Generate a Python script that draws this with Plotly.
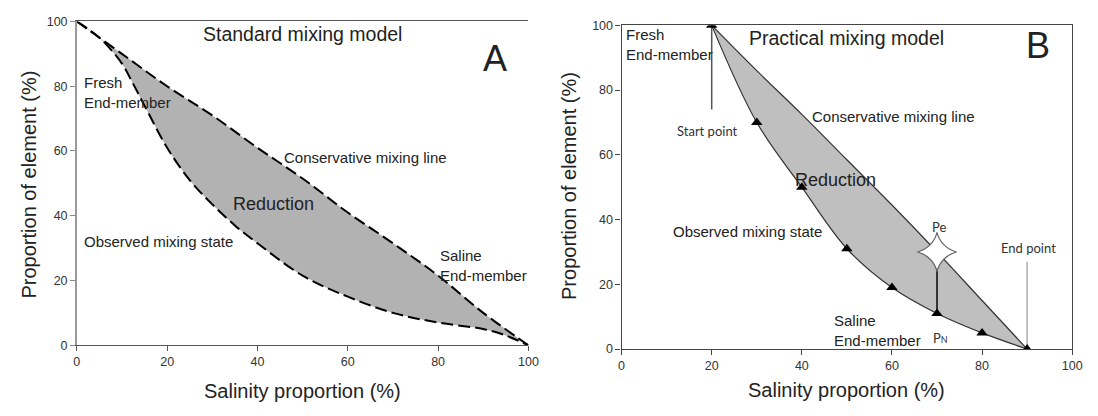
import plotly.graph_objects as go

# ---------------- data ----------------
ticks = [0, 20, 40, 60, 80, 100]

# Panel A: standard mixing model
a_cons_x = [0, 10, 20, 30, 40, 50, 60, 70, 80, 90, 100]
a_cons_y = [100, 90, 80, 71, 61, 51.5, 41, 31.5, 21.5, 10, 0]
a_obs_x = [0, 5, 10, 12, 15, 20, 25, 30, 35, 40, 50, 60, 70, 80, 90, 95, 100]
a_obs_y = [100, 95, 87, 82, 74, 61, 51, 43.5, 37, 31.5, 21.5, 15, 10, 7, 5, 3, 0]

# Panel B: practical mixing model
b_cons_x = [20, 30, 40, 50, 60, 70, 80, 90]
b_cons_y = [100, 86, 72.5, 58.5, 44.5, 30, 15, 0]
b_obs_x = [20, 30, 40, 50, 60, 70, 80, 90]
b_obs_y = [100, 70, 50, 31, 19, 11, 5, 0]
pe_x, pe_y = [70], [30]
pn_line_x, pn_line_y = [70, 70], [11, 30]
start_line_x, start_line_y = [20, 20], [100, 74]
end_line_x, end_line_y = [90, 90], [0, 27]

FONT = "Liberation Sans, Arial, sans-serif"
TXT = "#222222"

fig = go.Figure()

# ---- Panel A ----
fig.add_trace(go.Scatter(x=a_cons_x, y=a_cons_y, mode="lines", line_shape="spline",
                         line=dict(color="black", width=2, dash="12px,5px"),
                         xaxis="x", yaxis="y", showlegend=False, hoverinfo="skip"))
fig.add_trace(go.Scatter(x=a_obs_x, y=a_obs_y, mode="lines", line_shape="spline",
                         line=dict(color="black", width=2, dash="12px,5px"),
                         fill="tonexty", fillcolor="#b2b2b2",
                         xaxis="x", yaxis="y", showlegend=False, hoverinfo="skip"))

# ---- Panel B ----
fig.add_trace(go.Scatter(x=b_cons_x, y=b_cons_y, mode="lines", line_shape="spline",
                         line=dict(color="#333333", width=1.2),
                         xaxis="x2", yaxis="y2", showlegend=False, hoverinfo="skip"))
fig.add_trace(go.Scatter(x=b_obs_x, y=b_obs_y, mode="lines", line_shape="spline",
                         line=dict(color="#333333", width=1.2),
                         fill="tonexty", fillcolor="#bfbfbf",
                         xaxis="x2", yaxis="y2", showlegend=False, hoverinfo="skip"))
fig.add_trace(go.Scatter(x=start_line_x, y=start_line_y, mode="lines",
                         line=dict(color="#555555", width=1.5),
                         xaxis="x2", yaxis="y2", showlegend=False, hoverinfo="skip"))
fig.add_trace(go.Scatter(x=end_line_x, y=end_line_y, mode="lines",
                         line=dict(color="#999999", width=1.2),
                         xaxis="x2", yaxis="y2", showlegend=False, hoverinfo="skip"))
fig.add_trace(go.Scatter(x=pn_line_x, y=pn_line_y, mode="lines",
                         line=dict(color="#111111", width=1.6),
                         xaxis="x2", yaxis="y2", showlegend=False, hoverinfo="skip"))
fig.add_trace(go.Scatter(x=b_obs_x, y=b_obs_y, mode="markers",
                         marker=dict(symbol="triangle-up", size=10, color="black"),
                         xaxis="x2", yaxis="y2", showlegend=False, hoverinfo="skip"))
fig.add_trace(go.Scatter(x=pe_x, y=pe_y, mode="markers",
                         marker=dict(symbol="star-diamond", size=28, color="white",
                                     line=dict(color="#666666", width=1.2)),
                         xaxis="x2", yaxis="y2", showlegend=False, hoverinfo="skip"))

W, H = 1098, 416
axA = dict(x0=74.7, x1=531.7, y0=15, y1=350)
axB = dict(x0=626, x1=1082, y0=19, y1=354)


def dom(ax):
    return [ax["x0"] / W, ax["x1"] / W], [1 - ax["y1"] / H, 1 - ax["y0"] / H]


ax_dx, ax_dy = dom(axA)
bx_dx, bx_dy = dom(axB)

tickfont = dict(family=FONT, size=12.5, color="#333333")
common = dict(range=[0, 100], tickvals=ticks, ticks="outside", ticklen=5,
              showgrid=False, zeroline=False, tickfont=tickfont, showline=True)

fig.update_layout(
    width=W, height=H, margin=dict(l=0, r=0, t=0, b=0),
    paper_bgcolor="white", plot_bgcolor="white",
    xaxis=dict(domain=ax_dx, anchor="y", linecolor="#555555", tickcolor="#555555",
               linewidth=1.2, mirror=True, **common),
    yaxis=dict(domain=ax_dy, anchor="x", linecolor="#999999", tickcolor="#888888",
               linewidth=1.5, mirror=False, **common),
    xaxis2=dict(domain=bx_dx, anchor="y2", linecolor="#444444", tickcolor="#444444",
                linewidth=1.2, mirror=True, **common),
    yaxis2=dict(domain=bx_dy, anchor="x2", linecolor="#444444", tickcolor="#444444",
                linewidth=1.2, mirror=True, **common),
)

ann = []


def add(text, x, y, ref, size=15, xanchor="center", color=TXT, family=FONT, align="left"):
    xr, yr = ref
    ann.append(dict(text=text, x=x, y=y, xref=xr, yref=yr, showarrow=False,
                    xanchor=xanchor, yanchor="middle", align=align,
                    font=dict(size=size, color=color, family=family)))


A = ("x", "y")
B = ("x2", "y2")
P = ("paper", "paper")

# Panel A texts
add("Standard mixing model", 50, 96, A, size=19.5)
add("A", 92.6, 88.7, A, size=36)
add("Fresh<br>End-member", 1.2, 78.2, A, xanchor="left")
add("Conservative mixing line", 45.4, 57.9, A, xanchor="left")
add("Reduction", 43.6, 43.6, A, size=18)
add("Observed mixing state", 1.2, 32, A, xanchor="left")
add("Saline<br>End-member", 80, 24.5, A, xanchor="left")

# Panel B texts
add("Practical mixing model", 50, 96.2, B, size=19.5)
add("B", 92.4, 93.7, B, size=36)
add("Fresh<br>End-member", 0.6, 94.2, B, xanchor="left")
add("Start point", 19.1, 67.3, B, size=13, family="Lato, sans-serif", color="#333333")
add("Conservative mixing line", 41.9, 71.8, B, xanchor="left")
add("Reduction", 47.5, 52.3, B, size=18)
add("Observed mixing state", 10.9, 36.4, B, xanchor="left")
add("Pe", 70.4, 37.6, B, size=13, family="Lato, sans-serif", color="#333333")
add("End point", 90.3, 31.1, B, size=13, family="Lato, sans-serif", color="#333333")
add("Saline<br>End-member", 46.6, 5.8, B, xanchor="left")
add("P<span style='font-size:9px'>N</span>", 70.8, 3.5, B, size=13,
    family="Lato, sans-serif", color="#333333")

# Axis titles
add("Salinity proportion (%)", (axA["x0"] + axA["x1"]) / 2 / W, 1 - 397 / H, P, size=20)
add("Salinity proportion (%)", (axB["x0"] + axB["x1"]) / 2 / W, 1 - 396 / H, P, size=20)
ann.append(dict(text="Proportion of element (%)", x=26 / W, y=1 - 184 / H, xref="paper",
                yref="paper", showarrow=False, textangle=-90, xanchor="center",
                yanchor="middle", font=dict(size=20, color=TXT, family=FONT)))
ann.append(dict(text="Proportion of element (%)", x=573 / W, y=1 - 185 / H, xref="paper",
                yref="paper", showarrow=False, textangle=-90, xanchor="center",
                yanchor="middle", font=dict(size=20, color=TXT, family=FONT)))

fig.update_layout(annotations=ann)
fig.write_html("out.html")
